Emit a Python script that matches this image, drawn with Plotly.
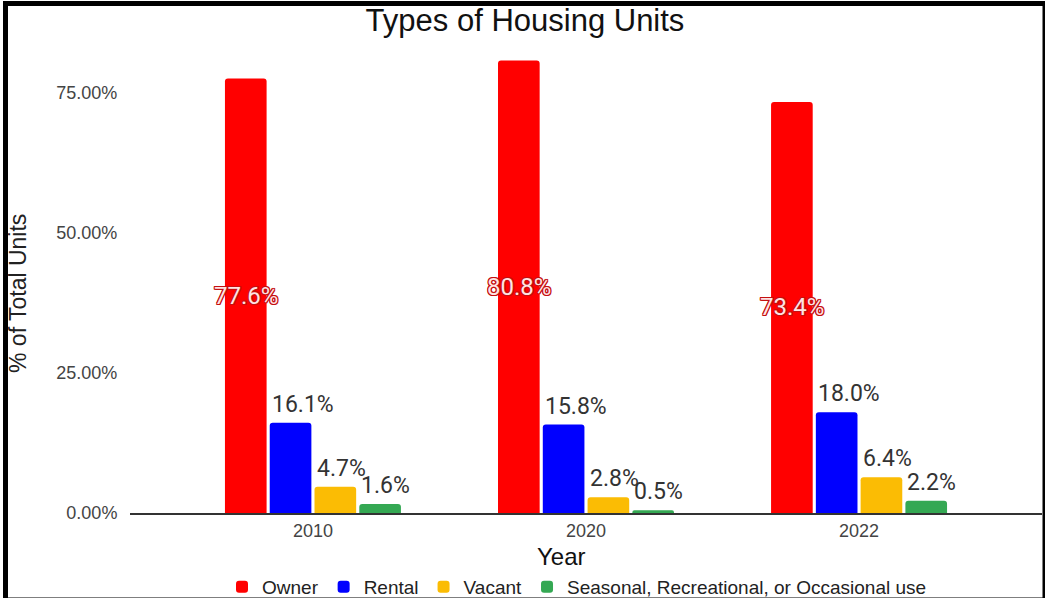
import plotly.graph_objects as go

years = ["2010", "2020", "2022"]
series_names = ["Owner", "Rental", "Vacant", "Seasonal, Recreational, or Occasional use"]
owner = [0.776, 0.808, 0.734]
rental = [0.161, 0.158, 0.180]
vacant = [0.047, 0.028, 0.064]
seasonal = [0.016, 0.005, 0.022]
colors = ["#ff0000", "#0000ff", "#fbbc04", "#34a853"]
y_ticks = [0, 0.25, 0.5, 0.75]

series_values = [owner, rental, vacant, seasonal]

# figure / plot-area geometry in pixels
W, H = 1045, 598
L, R, T, B = 130, 3, 45, 85
plot_w = W - L - R
plot_h = H - T - B

BARGAP = 0.344
GROUPGAP = 0.07
X_RANGE = [-0.67, 2.67]
Y_RANGE = [0, 0.8357]

SANS = "Liberation Sans, Arial, sans-serif"
LABEL_FONT = "Roboto, Arial, sans-serif"

fig = go.Figure()
for name, vals, col in zip(series_names, series_values, colors):
    fig.add_trace(go.Bar(
        x=years, y=vals, name=name,
        marker=dict(color=col, line=dict(width=0)),
    ))

# bar geometry within a category (data units)
n = len(series_names)
slot = (1 - BARGAP) / n


def bar_left(i, k):
    return i - (1 - BARGAP) / 2 + k * slot + slot * GROUPGAP / 2


def bar_center(i, k):
    return i - (1 - BARGAP) / 2 + (k + 0.5) * slot


annotations = []
outline = ("1px 1px 0 #c41010, -1px -1px 0 #c41010, 1px -1px 0 #c41010, -1px 1px 0 #c41010, "
           "0 1px 0 #c41010, 0 -1px 0 #c41010, 1px 0 0 #c41010, -1px 0 0 #c41010")
for i, yr in enumerate(years):
    # owner share written in the middle of its bar
    annotations.append(dict(
        x=bar_center(i, 0), y=owner[i] / 2, xref="x", yref="y",
        text=f"{owner[i] * 100:.1f}%", showarrow=False,
        xanchor="center", yanchor="middle",
        font=dict(family=LABEL_FONT, size=24, color="#ffe4e4", shadow=outline),
    ))
    # other shares written above their bars
    for k in range(1, n):
        v = series_values[k][i]
        annotations.append(dict(
            x=bar_left(i, k), y=v, xref="x", yref="y",
            text=f"{v * 100:.1f}%", showarrow=False,
            xanchor="left", yanchor="bottom", yshift=3,
            font=dict(family=LABEL_FONT, size=23, color="#333333"),
        ))


def px_x(px):
    return (px - L) / plot_w


def px_y(py):
    return (H - B - py) / plot_h


# axis titles
annotations.append(dict(
    x=px_x(18), y=px_y(294), xref="paper", yref="paper",
    text="% of Total Units", textangle=-90, showarrow=False,
    xanchor="center", yanchor="middle",
    font=dict(family=SANS, size=23, color="#222222"),
))
annotations.append(dict(
    x=px_x(561), y=px_y(556), xref="paper", yref="paper",
    text="Year", showarrow=False, xanchor="center", yanchor="middle",
    font=dict(family=SANS, size=24, color="#111111"),
))

# outer black frame
shapes = [dict(
    type="rect", xref="paper", yref="paper",
    x0=px_x(5.5), x1=px_x(1045), y0=px_y(600), y1=px_y(3.5),
    line=dict(color="#000000", width=5), fillcolor="rgba(0,0,0,0)", layer="above",
)]

fig.update_layout(
    width=W, height=H,
    margin=dict(l=L, r=R, t=T, b=B, pad=0, autoexpand=False),
    paper_bgcolor="#ffffff", plot_bgcolor="#ffffff",
    barmode="group", bargap=BARGAP, bargroupgap=GROUPGAP,
    barcornerradius=3,
    title=dict(
        text="Types of Housing Units", x=525 / W, xref="container",
        xanchor="center", y=1 - 20 / H, yanchor="middle",
        font=dict(family=SANS, size=31, color="#111111"),
    ),
    xaxis=dict(
        type="category", range=X_RANGE, showgrid=False, zeroline=False,
        showline=True, linecolor="#333333", linewidth=1.5,
        ticks="outside", ticklen=1, tickcolor="rgba(0,0,0,0)",
        tickfont=dict(family=SANS, size=18, color="#444444"),
    ),
    yaxis=dict(
        range=Y_RANGE, tickvals=y_ticks, tickformat=".2%",
        showgrid=False, zeroline=False, showline=False,
        ticks="outside", ticklen=8, tickcolor="rgba(0,0,0,0)",
        tickfont=dict(family=SANS, size=18, color="#444444"),
    ),
    legend=dict(
        orientation="h", x=px_x(577), xanchor="center", y=px_y(587), yanchor="middle",
        font=dict(family=SANS, size=19, color="#222222"),
        bgcolor="rgba(0,0,0,0)", itemwidth=30,
    ),
    annotations=annotations,
    shapes=shapes,
    showlegend=True,
)

fig.write_html("out.html")
